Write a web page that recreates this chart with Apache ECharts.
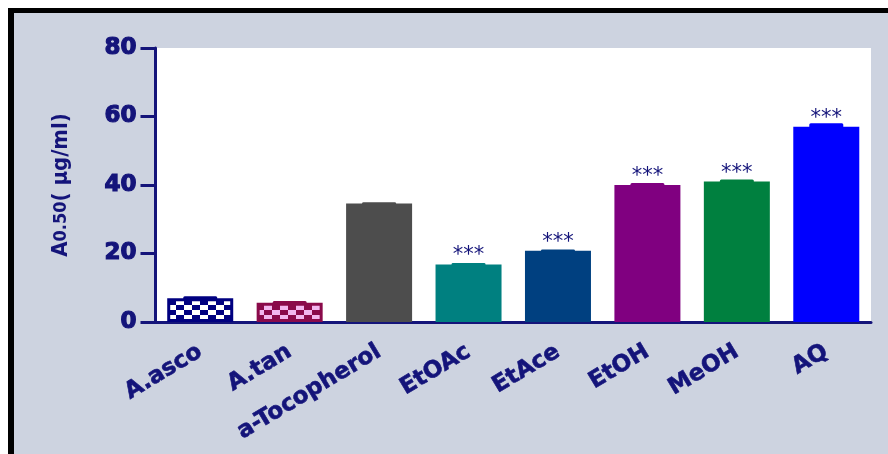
<!DOCTYPE html>
<html>
<head>
<meta charset="utf-8">
<script src="https://cdn.jsdelivr.net/npm/echarts@6/dist/echarts.min.js"></script>
<style>
  html, body { margin: 0; padding: 0; background: #ffffff; }
  #frame {
    position: absolute; left: 8px; top: 8px; width: 900px; height: 470px;
    background: #cdd3e0; border-left: 6px solid #000; border-top: 5px solid #000;
  }
  #chart { position: absolute; left: 0; top: 0; width: 888px; height: 454px; }
</style>
</head>
<body>
<div id="frame"></div>
<div id="chart"></div>
<script>
// Samples and their A0.50 values (µg/ml), with error and significance marks
const categories = ['A.asco', 'A.tan', 'a-Tocopherol', 'EtOAc', 'EtAce', 'EtOH', 'MeOH', 'AQ'];
const values = [6.9, 5.6, 34.6, 16.8, 20.8, 40.0, 41.0, 57.0];
const errors = [0.6, 0.5, 0.4, 0.4, 0.4, 0.6, 0.6, 1.0];
const stars = ['', '', '', '***', '***', '***', '***', '***'];
const yTicks = [0, 20, 40, 60, 80];

const NAVY = '#14147a';

// Checkerboard fill for the standard compounds
function checker(base, cell) {
  const c = document.createElement('canvas');
  c.width = 16; c.height = 10;
  const g = c.getContext('2d');
  g.fillStyle = base; g.fillRect(0, 0, 16, 10);
  g.fillStyle = cell;
  g.fillRect(0, 0, 8, 5);
  g.fillRect(8, 5, 8, 5);
  return { image: c, repeat: 'repeat' };
}

const fills = [
  { color: checker('#000080', '#ffffff'), borderColor: '#000080', borderWidth: 3 },
  { color: checker('#8a0a4a', '#f2b6ee'), borderColor: '#8a0a4a', borderWidth: 3 },
  { color: '#4d4d4d' },
  { color: '#008080' },
  { color: '#004080' },
  { color: '#800080' },
  { color: '#00803f' },
  { color: '#0000ff' }
];
const solid = ['#000080', '#8a0a4a', '#4d4d4d', '#008080', '#004080', '#800080', '#00803f', '#0000ff'];

const nameFont = 'Liberation Sans Narrow, DejaVu Sans Condensed';

const chart = echarts.init(document.getElementById('chart'));
chart.setOption({
  backgroundColor: 'transparent',
  animation: false,
  grid: {
    left: 155.5, right: 17, top: 48, bottom: 132,
    show: true, backgroundColor: '#ffffff', borderWidth: 0
  },
  xAxis: {
    type: 'category',
    data: categories,
    axisLine: { lineStyle: { color: NAVY, width: 3 } },
    axisTick: { alignWithLabel: true, length: 10, lineStyle: { color: NAVY, width: 4 } },
    axisLabel: {
      rotate: 31, margin: 28, color: NAVY,
      fontFamily: 'DejaVu Sans', fontWeight: 'bold', fontSize: 23,
      textBorderColor: NAVY, textBorderWidth: 0.6
    }
  },
  yAxis: {
    type: 'value',
    min: 0, max: 80, interval: 20,
    name: '{a|A}{s|0.50}{a|( μg/ml)}',
    nameLocation: 'middle',
    nameGap: 83,
    nameRotate: 90,
    nameTextStyle: {
      color: NAVY,
      rich: {
        a: { fontFamily: nameFont, fontWeight: 'bold', fontSize: 22, color: NAVY },
        s: { fontFamily: nameFont, fontWeight: 'bold', fontSize: 18, color: NAVY }
      }
    },
    axisLine: { show: true, lineStyle: { color: NAVY, width: 3 } },
    axisTick: { show: true, length: 15, lineStyle: { color: NAVY, width: 3 } },
    axisLabel: {
      margin: 19, color: NAVY,
      fontFamily: 'DejaVu Sans', fontWeight: 'bold', fontSize: 23,
      textBorderColor: NAVY, textBorderWidth: 1.2,
      formatter: v => (yTicks.includes(v) ? String(v) : '')
    },
    splitLine: { show: false }
  },
  series: [
    {
      type: 'bar',
      barWidth: 66,
      z: 3,
      data: values.map((v, i) => ({ value: v, itemStyle: fills[i] })),
      label: {
        show: true, position: 'top', distance: -2,
        formatter: p => stars[p.dataIndex],
        color: NAVY, fontFamily: 'DejaVu Sans', fontSize: 21
      }
    },
    {
      // small error caps sitting on the bar tops
      type: 'custom',
      z: 4,
      data: values.map((v, i) => [i, v, v + errors[i]]),
      renderItem: (params, api) => {
        const i = api.value(0);
        const lo = api.coord([i, api.value(1)]);
        const hi = api.coord([i, api.value(2)]);
        const w = 34;
        return {
          type: 'rect',
          shape: { x: lo[0] - w / 2, y: hi[1], width: w, height: lo[1] - hi[1] + 1.5, r: 1.5 },
          style: { fill: solid[i] }
        };
      }
    }
  ]
});
</script>
</body>
</html>
